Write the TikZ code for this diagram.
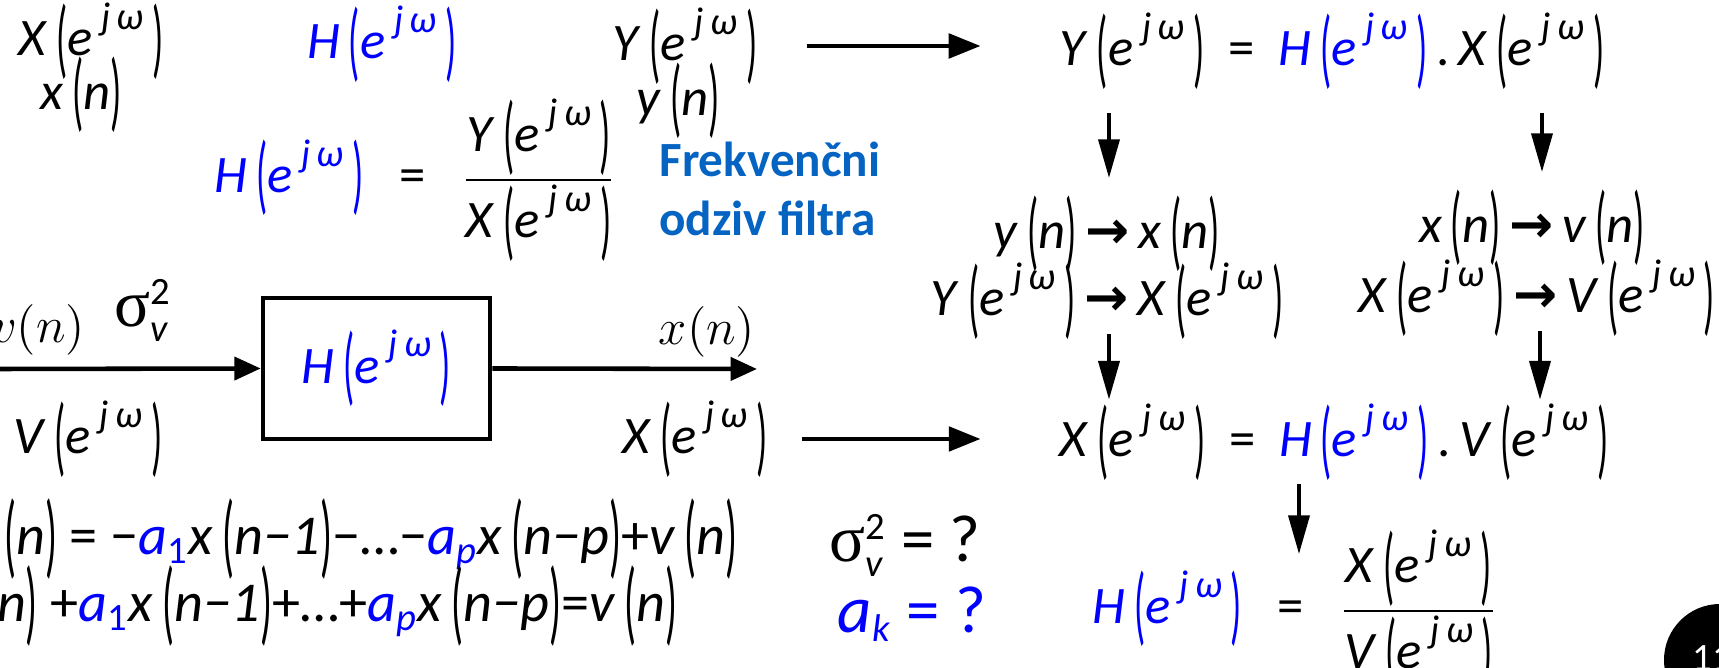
\documentclass[tikz,border=0pt]{standalone}
\usepackage{fontspec}
\usepackage{graphicx}
\setmainfont{Carlito}
\newfontfamily\arrowfont{DejaVu Sans}
\newfontfamily\grfont{Liberation Serif}
\usetikzlibrary{arrows.meta}
\definecolor{odziv}{RGB}{5,99,193}

% tall parentheses and e^{j omega}
\newcommand{\lp}{\raisebox{-0.45ex}{\scalebox{0.7}[1.65]{(}}}
\newcommand{\rp}{\raisebox{-0.45ex}{\scalebox{0.7}[1.65]{)}}}
\newcommand{\ejw}{\textit{e}\,\raisebox{1.05ex}{\fontsize{11}{11}\selectfont\textit{j\,ω}}}
\newcommand{\Fjw}[1]{\textit{#1}\,\lp\ejw\,\rp}
\newcommand{\Hjw}{{\color{blue}\Fjw{H}}}
\newcommand{\seq}[2][n]{\textit{#2}\,\lp\textit{#1}\rp}
\newcommand{\tto}{\,{\arrowfont\bfseries →}\,}
\newcommand{\coef}[1]{{\color{blue}$\mbox{\itshape a}_{\mbox{\fontsize{11}{11}\selectfont #1}}$}}
\newcommand{\sigv}{$\mbox{\grfont σ}_{\mbox{\fontsize{11}{11}\selectfont\itshape v}}^{\mbox{\fontsize{11}{11}\selectfont 2}}$}

\tikzset{
  eq/.style={font=\fontsize{15}{18}\selectfont, inner sep=1pt},
  areq/.style={font=\fontsize{16}{19}\selectfont, inner sep=1pt, anchor=east},
  cmlabel/.style={font=\fontsize{14}{16}\selectfont, inner sep=1pt},
  harr/.style={line width=1pt, -{Triangle[length=9pt,width=7pt]}},
  varr/.style={line width=1pt, -{Triangle[length=11pt,width=6pt]}},
  barr/.style={line width=1.3pt, -{Triangle[length=7.5pt,width=6.5pt]}},
}

\begin{document}
\begin{tikzpicture}
\useasboundingbox (0,0) rectangle (17.19,-6.68);

% top row
\node[eq] (Xtop) at (0.91,-0.41) {\Fjw{X}};
\node[eq] (xtop) at (0.81,-0.95) {\seq{x}};
\node[eq] (Htop) at (3.82,-0.44) {\Hjw};
\node[eq] (Ytop) at (6.85,-0.46) {\Fjw{Y}};
\node[eq] (ytop) at (6.78,-1.01) {\seq{y}};
\node[eq] (eqY) at (13.32,-0.51) {\Fjw{Y}\ \ =\ \ \Hjw\,.\,\Fjw{X}};

% H = Y/X
\node[eq] (Hfr) at (4.15,-1.80) {\Hjw\ \ \ =\ \ \ $\displaystyle\frac{\mbox{\Fjw{Y}}}{\mbox{\Fjw{X}}}$};
\node[font=\fontsize{14}{17}\selectfont\bfseries, text=odziv, align=left, anchor=west] (odz) at (6.47,-1.89) {Frekvenčni\\odziv filtra};

% middle column
\node[eq] (yx) at (11.07,-2.34) {\seq{y}\tto\seq{x}};
\node[eq] (YX) at (11.07,-3.01) {\Fjw{Y}\tto\Fjw{X}};
\node[eq] (xv) at (15.32,-2.28) {\seq{x}\tto\seq{v}};
\node[eq] (XV) at (15.37,-2.98) {\Fjw{X}\tto\Fjw{V}};
\node[eq] (eqX) at (13.34,-4.42) {\Fjw{X}\ \ =\ \ \Hjw\,.\,\Fjw{V}};
\node[eq] (Hfv) at (12.95,-6.11) {\Hjw\ \ \ =\ \ \ $\displaystyle\frac{\mbox{\Fjw{X}}}{\mbox{\Fjw{V}}}$};

% block diagram
\node[draw, line width=1.3pt, minimum width=2.27cm, minimum height=1.41cm, eq] (filt) at (3.765,-3.685) {\Hjw};
\coordinate (vin) at (0,-3.69);
\coordinate (xout) at (7.57,-3.69);
\draw[barr] (vin) -- (filt.west);
\draw[barr] (filt.east) -- (xout);
\node[cmlabel] (vn) at (0.38,-3.30) {$v(n)$};
\node[font=\fontsize{19}{22}\selectfont] (sig) at (1.43,-3.10) {\sigv};
\node[cmlabel] (xn) at (7.07,-3.32) {$x(n)$};
\node[eq] (Vblk) at (0.88,-4.39) {\Fjw{V}};
\node[eq] (Xblk) at (6.95,-4.39) {\Fjw{X}};

% difference equations
\node[areq] (ar1) at (7.42,-5.39) {\seq{x}\ =\ −\coef{1}\seq[\textit{n}−1]{x}−…−\coef{\itshape p}\seq[\textit{n}−\textit{p}]{x}+\seq{v}};
\node[areq] (ar2) at (6.82,-6.06) {\seq{x}\ +\coef{1}\seq[\textit{n}−1]{x}+…+\coef{\itshape p}\seq[\textit{n}−\textit{p}]{x}=\seq{v}};
\node[font=\fontsize{19}{22}\selectfont] (sq) at (9.05,-5.45) {\sigv\ = ?};
\node[font=\fontsize{19}{22}\selectfont, text=blue] (aq) at (9.12,-6.14) {\coef{\itshape k} = ?};

% arrows
\draw[harr, shorten <=4.5mm, shorten >=7.5mm] (Ytop.east) -- (Ytop.east -| eqY.west);
\draw[harr, shorten <=3mm, shorten >=7.5mm] (Xblk.east) -- (Xblk.east -| eqX.west);
\draw[varr, shorten <=2mm, shorten >=1.4mm] (eqY.south -| 11.09,0) -- (11.09,0 |- yx.north);
\draw[varr, shorten <=2mm, shorten >=1.4mm] (eqY.south -| 15.42,0) -- (15.42,0 |- xv.north);
\draw[varr, shorten <=-0.9mm] (YX.south -| 11.09,0) -- (11.09,0 |- eqX.north);
\draw[varr, shorten <=-0.9mm] (XV.south -| 15.40,0) -- (15.40,0 |- eqX.north);
\coordinate (Htip) at (12.99,-5.54);
\draw[varr] (eqX.south -| Htip) -- (Htip);

% page number
\fill (17.20,-6.60) circle (0.56);
\node[text=white, font=\fontsize{11}{12}\selectfont] (pg) at (17.12,-6.58) {11};
\end{tikzpicture}
\end{document}
